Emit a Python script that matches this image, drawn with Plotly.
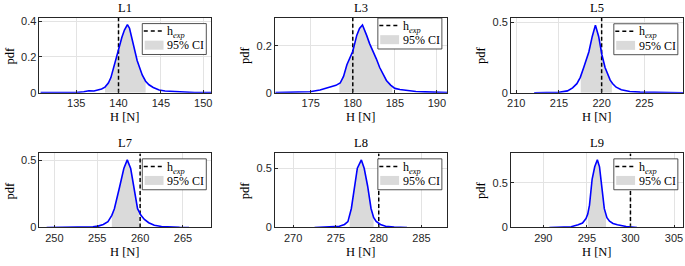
import numpy as np
import plotly.graph_objects as go

# ---------------- data ----------------
panel_names = ["L1", "L3", "L5", "L7", "L8", "L9"]

H_L1 = [130.8, 133.0, 135.0, 135.9, 136.5, 137.1, 137.6, 138.0, 138.4, 138.8, 139.1, 139.4, 139.8,
        140.1, 140.4, 140.7, 141.05, 141.3, 141.6, 141.9, 142.2, 142.5, 142.8, 143.2, 143.6, 144.1,
        144.8, 145.5, 147.0, 149.0, 151.0]
pdf_L1 = [0.001, 0.001, 0.002, 0.006, 0.012, 0.010, 0.016, 0.022, 0.032, 0.055, 0.085, 0.14, 0.21,
          0.26, 0.31, 0.35, 0.38, 0.36, 0.30, 0.235, 0.18, 0.14, 0.10, 0.065, 0.045, 0.03,
          0.016, 0.01, 0.005, 0.002, 0.001]

H_L3 = [170.8, 173.0, 174.9, 176.1, 177.3, 178.0, 178.5, 178.9, 179.3, 179.7, 180.0, 180.47, 180.8,
        181.15, 181.4, 181.65, 182.0, 182.44, 182.8, 183.2, 183.6, 184.0, 184.5, 185.0, 185.6,
        186.3, 187.5, 188.6, 190.0, 191.4]
pdf_L3 = [0.001, 0.002, 0.005, 0.012, 0.023, 0.032, 0.042, 0.07, 0.12, 0.155, 0.177, 0.245, 0.275,
          0.289, 0.27, 0.245, 0.21, 0.177, 0.145, 0.108, 0.08, 0.053, 0.033, 0.019, 0.014,
          0.01, 0.006, 0.004, 0.002, 0.001]

H_L5 = [212.1, 213.5, 215.0, 216.0, 216.6, 217.1, 217.5, 217.9, 218.2, 218.5, 218.9, 219.27, 219.65,
        220.03, 220.4, 220.7, 221.0, 221.3, 221.7, 222.3, 223.3, 224.5, 226.0, 228.0, 229.6]
pdf_L5 = [0.0, 0.001, 0.004, 0.014, 0.035, 0.065, 0.11, 0.18, 0.23, 0.29, 0.40, 0.48, 0.40,
          0.27, 0.18, 0.13, 0.09, 0.065, 0.04, 0.022, 0.01, 0.005, 0.002, 0.001, 0.0]

H_L7 = [249.1, 251.0, 253.0, 254.5, 255.1, 255.7, 256.25, 256.7, 257.0, 257.3, 257.6, 258.1, 258.5,
        258.9, 259.34, 259.7, 260.1, 260.5, 261.0, 261.65, 262.5, 263.5, 264.6, 265.7]
pdf_L7 = [0.0, 0.001, 0.002, 0.005, 0.01, 0.022, 0.043, 0.09, 0.14, 0.21, 0.30, 0.44, 0.505,
          0.44, 0.27, 0.14, 0.09, 0.06, 0.035, 0.016, 0.007, 0.003, 0.001, 0.0]

H_L8 = [272.5, 274.0, 275.4, 276.0, 276.4, 276.8, 277.2, 277.5, 277.97, 278.3, 278.7, 279.1, 279.4,
        279.7, 280.2, 280.8, 281.8, 283.3]
pdf_L8 = [0.0, 0.003, 0.01, 0.025, 0.049, 0.16, 0.35, 0.5, 0.57, 0.5, 0.35, 0.16, 0.085,
          0.05, 0.025, 0.01, 0.004, 0.0]

H_L9 = [290.7, 292.0, 293.2, 294.0, 294.5, 294.9, 295.1, 295.3, 295.6, 295.9, 296.2, 296.45, 296.7,
        297.0, 297.3, 297.6, 298.0, 298.5, 299.5, 300.75]
pdf_L9 = [0.0, 0.002, 0.008, 0.03, 0.05, 0.1, 0.15, 0.25, 0.54, 0.68, 0.76, 0.68, 0.46,
          0.21, 0.11, 0.07, 0.045, 0.03, 0.01, 0.0]

h_exp = [140, 180, 220, 260, 280, 300]
ci_low = [138.4, 178.4, 217.55, 256.7, 276.6, 295.1]
ci_high = [143.2, 184.7, 221.2, 259.9, 279.4, 297.2]

x_ranges = [[130.66, 150.98], [170.75, 191.21], [209.38, 229.53],
            [248.26, 268.32], [267.88, 287.98], [286.29, 306.03]]
y_ranges = [[0, 0.418], [0, 0.32], [0, 0.532], [0, 0.553], [0, 0.625], [0, 0.83]]
x_ticks = [[135, 140, 145, 150], [175, 180, 185, 190], [210, 215, 220, 225],
           [250, 255, 260, 265], [270, 275, 280, 285], [290, 295, 300, 305]]
y_ticks = [[0, 0.2, 0.4], [0, 0.2], [0, 0.5], [0, 0.5], [0, 0.5], [0, 0.5]]
y_ticktext = [["0", "0.2", "0.4"], ["0", "0.2"], ["0", "0.5"], ["0", "0.5"], ["0", "0.5"], ["0", "0.5"]]

H_all = [H_L1, H_L3, H_L5, H_L7, H_L8, H_L9]
pdf_all = [pdf_L1, pdf_L3, pdf_L5, pdf_L7, pdf_L8, pdf_L9]

legend_label_line = "h<sub><i>exp</i></sub>"
legend_label_ci = "95% CI"
x_title = "H [N]"
y_title = "pdf"

# ---------------- layout geometry (pixels) ----------------
W, HGT = 685, 266
col_left = [35.7, 273.0, 510.7]
col_w = 173.3
row_top = [15.3, 155.7]
row_bot = [93.0, 232.3]
leg_top = [21.3, 15.6, 21.5, 161.3, 161.3, 161.3]


def px(x):
    return x / W


def py(y):
    return 1 - y / HGT


SERIF = "Liberation Serif"
SANS = "Liberation Sans"
AXC = "#262626"

fig = go.Figure()
layout = dict(
    width=W, height=HGT, margin=dict(l=0, r=0, t=0, b=0),
    paper_bgcolor="white", plot_bgcolor="white", showlegend=False,
    font=dict(family=SANS, size=11, color=AXC),
)
shapes = []
annotations = []

for i in range(6):
    r, c = divmod(i, 3)
    n = "" if i == 0 else str(i + 1)
    xa, ya = "x" + n, "y" + n
    H = np.array(H_all[i])
    p = np.array(pdf_all[i])
    lo, hi = ci_low[i], ci_high[i]
    inside = (H > lo) & (H < hi)
    xf = np.concatenate([[lo], H[inside], [hi]])
    yf = np.interp(xf, H, p)

    fig.add_trace(go.Scatter(x=xf, y=yf, mode="lines", fill="tozeroy",
                             fillcolor="#dadada", line=dict(width=0, color="#dadada"),
                             name=legend_label_ci, xaxis=xa, yaxis=ya, hoverinfo="skip"))
    fig.add_trace(go.Scatter(x=[h_exp[i], h_exp[i]], y=[0, y_ranges[i][1]], mode="lines",
                             line=dict(color="black", width=1.5, dash="4px,2.5px"),
                             name="h_exp", xaxis=xa, yaxis=ya))
    fig.add_trace(go.Scatter(x=H, y=p, mode="lines", line=dict(color="#0000ff", width=1.6),
                             name=panel_names[i], xaxis=xa, yaxis=ya))

    x0, x1 = col_left[c], col_left[c] + col_w
    y0, y1 = row_top[r], row_bot[r]
    common = dict(showline=True, mirror=True, linecolor=AXC, linewidth=0.8,
                  showgrid=True, gridcolor="#e3e3e3", gridwidth=0.8, zeroline=False,
                  ticks="inside", ticklen=3, tickcolor=AXC, tickwidth=0.8,
                  tickfont=dict(family=SANS, size=11, color=AXC))
    layout["xaxis" + n] = dict(domain=[px(x0), px(x1)], range=x_ranges[i], anchor=ya,
                               tickvals=x_ticks[i], **common)
    layout["yaxis" + n] = dict(domain=[py(y1), py(y0)], range=y_ranges[i], anchor=xa,
                               tickvals=y_ticks[i], ticktext=y_ticktext[i], **common)

    cx = (x0 + x1) / 2
    # panel title
    annotations.append(dict(text=panel_names[i], x=px(cx), y=py(y0 - 10.3), xref="paper", yref="paper",
                            showarrow=False, xanchor="center", yanchor="middle",
                            font=dict(family=SERIF, size=12.5, color="black")))
    # axis titles
    annotations.append(dict(text=x_title, x=px(cx), y=py(y1 + 25.5), xref="paper", yref="paper",
                            showarrow=False, xanchor="center", yanchor="middle",
                            font=dict(family=SERIF, size=12.5, color="black")))
    annotations.append(dict(text=y_title, x=px(x0 - 29.5), y=py((y0 + y1) / 2), xref="paper", yref="paper",
                            showarrow=False, xanchor="center", yanchor="middle", textangle=-90,
                            font=dict(family=SERIF, size=12.5, color="black")))

    # legend box
    lx = x0 + 103.6
    lt = leg_top[i]
    lw, lh = 64.5, 32
    shapes.append(dict(type="rect", xref="paper", yref="paper", x0=px(lx), x1=px(lx + lw),
                       y0=py(lt + lh), y1=py(lt), fillcolor="white",
                       line=dict(color="#262626", width=0.8), layer="above"))
    shapes.append(dict(type="line", xref="paper", yref="paper", x0=px(lx + 1.5), x1=px(lx + 22.5),
                       y0=py(lt + 7.8), y1=py(lt + 7.8),
                       line=dict(color="black", width=1.5, dash="4px,3px"), layer="above"))
    shapes.append(dict(type="rect", xref="paper", yref="paper", x0=px(lx + 2.4), x1=px(lx + 21.4),
                       y0=py(lt + 27), y1=py(lt + 17.7), fillcolor="#dadada",
                       line=dict(width=0), layer="above"))
    annotations.append(dict(text=legend_label_line, x=px(lx + 23), y=py(lt + 9), xref="paper", yref="paper",
                            showarrow=False, xanchor="left", yanchor="middle",
                            font=dict(family=SERIF, size=12, color="black")))
    annotations.append(dict(text=legend_label_ci, x=px(lx + 23), y=py(lt + 22.5), xref="paper", yref="paper",
                            showarrow=False, xanchor="left", yanchor="middle",
                            font=dict(family=SERIF, size=12, color="black")))

layout["shapes"] = shapes
layout["annotations"] = annotations
fig.update_layout(**layout)
fig.write_html("out.html", config={"displayModeBar": False},
               post_script="document.body.style.margin='0px';document.body.style.padding='0px';")
